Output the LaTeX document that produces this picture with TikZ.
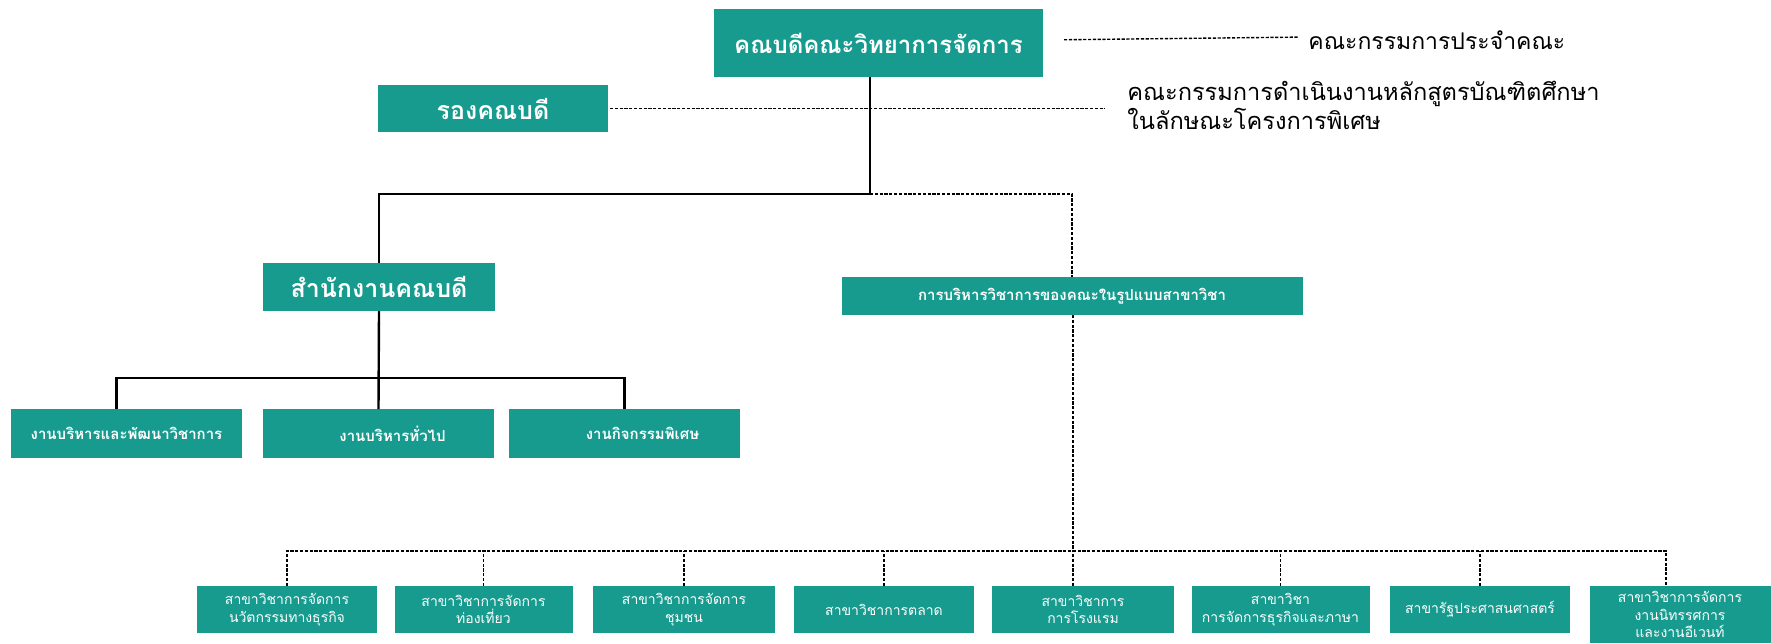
\documentclass[tikz,border=0pt]{standalone}
\usepackage{fontspec}
\setmainfont[Script=Thai]{Loma}
\definecolor{orgteal}{RGB}{22,155,142}
\tikzset{
  unitbox/.style={rectangle, fill=orgteal, text=white, inner sep=0, outer sep=0, align=center},
  solidlink/.style={draw=black, line width=1.2pt},
  dotlink/.style={draw=black, line width=0.85pt, dash pattern=on 1.6pt off 0.8pt},
  notelink/.style={draw=black, line width=0.7pt, dash pattern=on 1.6pt off 0.8pt}
}
\begin{document}
\begin{tikzpicture}[x=0.5pt, y=-0.5pt]
  \useasboundingbox (0,0) rectangle (1771,643);

  % top level
  \node[unitbox, minimum width=164.5pt, minimum height=34pt, font=\fontsize{12}{14}\selectfont\bfseries] (dean) at (878.5,43) {คณบดีคณะวิทยาการจัดการ};
  \node[unitbox, minimum width=115pt, minimum height=23.5pt, font=\fontsize{12.5}{14}\selectfont\bfseries] (vice) at (493,108.5) {รองคณบดี};

  \node[anchor=west, inner sep=0, font=\fontsize{11.5}{13}\selectfont] (board) at (1308,40) {คณะกรรมการประจำคณะ};
  \node[anchor=west, inner sep=0, align=left, font=\fontsize{11.8}{14.5}\selectfont] (grad) at (1127,105) {คณะกรรมการดำเนินงานหลักสูตรบัณฑิตศึกษา\\ในลักษณะโครงการพิเศษ};

  \draw[notelink, shorten <=10.5pt, shorten >=4.5pt] ([yshift=1.5pt]dean.east) -- ([yshift=1.5pt]board.west);
  \draw[dotlink, shorten <=1pt, shorten >=11pt] (vice.east) -- (grad.west |- vice.east);

  % second level
  \node[unitbox, minimum width=116pt, minimum height=24pt, font=\fontsize{12.5}{14}\selectfont\bfseries] (office) at (379,287) {สำนักงานคณบดี};
  \node[unitbox, minimum width=230.5pt, minimum height=19pt, font=\fontsize{7.5}{9}\selectfont\bfseries] (acad) at (1072,296) {การบริหารวิชาการของคณะในรูปแบบสาขาวิชา};

  \coordinate (split) at (870,194);
  \draw[solidlink] (dean.south -| split) -- (split);
  \draw[solidlink] (split) -| (office.north);
  \draw[dotlink] (split) -| (acad.north);

  % office works
  \node[unitbox, minimum width=115.5pt, minimum height=24.5pt, font=\fontsize{7.5}{9}\selectfont\bfseries] (work1) at (126.5,433.5) {งานบริหารและพัฒนาวิชาการ};
  \node[unitbox, minimum width=115.5pt, minimum height=24.5pt, font=\fontsize{7.5}{9}\selectfont\bfseries] (work2) at (378.5,433.5) {\hspace{14pt}งานบริหารทั่วไป};
  \node[unitbox, minimum width=115.5pt, minimum height=24.5pt, font=\fontsize{7.5}{9}\selectfont\bfseries] (work3) at (624.5,433.5) {\hspace{18pt}งานกิจกรรมพิเศษ};

  \coordinate (officebus) at (379,378);
  \draw[solidlink] (office.south) -- (work2.north);
  \draw[solidlink] ([xshift=-5pt]work1.north) |- (officebus) -| (work3.north);

  % majors
  \coordinate (majorbus) at (1073,551);
  \draw[dotlink] (acad.south -| majorbus) -- (majorbus);

  \node[unitbox, minimum width=90pt, minimum height=23.5pt, font=\fontsize{7}{8.8}\selectfont] (major1) at (287,609.5) {สาขาวิชาการจัดการ\\นวัตกรรมทางธุรกิจ};
  \node[unitbox, minimum width=89pt, minimum height=23.5pt, font=\fontsize{7}{8.8}\selectfont] (major2) at (483.5,609.5) {สาขาวิชาการจัดการ\\ท่องเที่ยว};
  \node[unitbox, minimum width=91pt, minimum height=23.5pt, font=\fontsize{7}{8.8}\selectfont] (major3) at (684,609.5) {สาขาวิชาการจัดการ\\ชุมชน};
  \node[unitbox, minimum width=90pt, minimum height=23.5pt, font=\fontsize{7}{8.8}\selectfont] (major4) at (884,609.5) {สาขาวิชาการตลาด};
  \node[unitbox, minimum width=91pt, minimum height=23.5pt, font=\fontsize{7}{8.8}\selectfont] (major5) at (1083,609.5) {สาขาวิชาการ\\การโรงแรม};
  \node[unitbox, minimum width=89pt, minimum height=23.5pt, font=\fontsize{7}{8.8}\selectfont] (major6) at (1280.5,609.5) {สาขาวิชา\\การจัดการธุรกิจและภาษา};
  \node[unitbox, minimum width=90pt, minimum height=23.5pt, font=\fontsize{7}{8.8}\selectfont] (major7) at (1480,609.5) {สาขารัฐประศาสนศาสตร์};
  \node[unitbox, minimum width=90.5pt, minimum height=28.5pt, font=\fontsize{7}{8.8}\selectfont] (major8) at (1680,614.5) {สาขาวิชาการจัดการ\\งานนิทรรศการ\\และงานอีเวนท์};

  \draw[dotlink] (major1.north) |- (majorbus) -| ([xshift=-7pt]major8.north);
  \foreach \m in {2,3,4,6,7}
    \draw[dotlink] (major\m.north) -- (major\m.north |- majorbus);
  \draw[dotlink] ([xshift=-5pt]major5.north) -- (majorbus);
\end{tikzpicture}
\end{document}
